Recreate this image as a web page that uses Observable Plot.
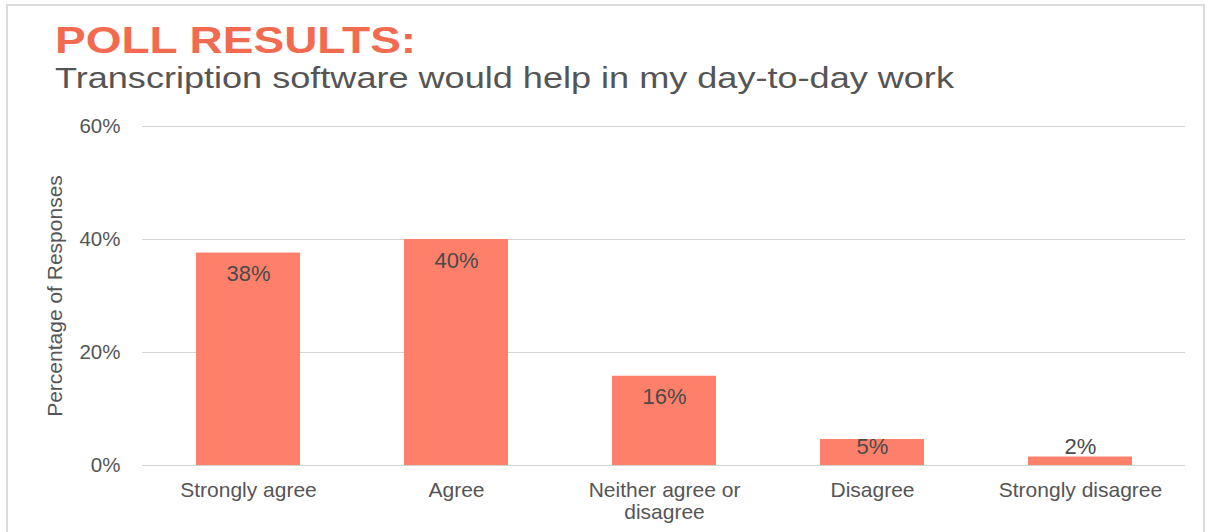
<!DOCTYPE html>
<html>
<head>
<meta charset="utf-8">
<script src="https://cdn.jsdelivr.net/npm/d3@7"></script>
<script src="https://cdn.jsdelivr.net/npm/@observablehq/plot@0.6"></script>
<style>
  html, body { margin: 0; padding: 0; background: #fff; overflow: hidden; }
  #page { position: relative; width: 1209px; height: 532px; overflow: hidden; font-family: "Liberation Sans", Arial, sans-serif; }
  #frame { position: absolute; left: 6px; top: 4px; width: 1199px; height: 560px; border: 2px solid #dcdcdc; box-sizing: border-box; }
  .head { position: absolute; left: 55px; display: inline-block; white-space: nowrap; transform-origin: 0 50%; }
  #title { top: 23px; font-size: 36.5px; line-height: 36px; font-weight: bold; color: #F26B50; }
  #subtitle { top: 63.5px; font-size: 29px; line-height: 29px; color: #555; }
  #chart { position: absolute; left: 0; top: 100px; }
</style>
</head>
<body>
<div id="page">
  <div id="frame"></div>
  <div id="title" class="head" style="transform: scaleX(1.26);">POLL RESULTS:</div>
  <div id="subtitle" class="head" style="transform: scaleX(1.244);">Transcription software would help in my day-to-day work</div>
  <div id="chart"></div>
</div>
<script>
const categories = ["Strongly agree", "Agree", "Neither agree or\ndisagree", "Disagree", "Strongly disagree"];
const values = [37.6, 40, 15.8, 4.6, 1.5];
const valueLabels = ["38%", "40%", "16%", "5%", "2%"];
const yTicks = [0, 20, 40, 60];
const yLabel = "Percentage of Responses";

const data = categories.map((c, i) => ({category: c, value: values[i], label: valueLabels[i]}));

const chart = Plot.plot({
  width: 1209,
  height: 432,
  marginTop: 26,
  marginBottom: 67,
  marginLeft: 142,
  marginRight: 24,
  style: {fontFamily: "'Liberation Sans', Arial, sans-serif", background: "transparent", overflow: "visible"},
  x: {domain: categories, paddingInner: 0.5, paddingOuter: 0.25, label: null},
  y: {domain: [0, 60], ticks: yTicks, label: null},
  marks: [
    Plot.gridY(yTicks, {stroke: "#d4d4d4", strokeOpacity: 1, strokeWidth: 1.2}),
    Plot.barY(data, {x: "category", y: "value", fill: "#FF806A"}),
    Plot.axisY(yTicks, {tickSize: 0, tickPadding: 22, tickFormat: d => d + "%", fontSize: 20.5, fill: "#555", label: null}),
    Plot.axisX({tickSize: 0, tickPadding: 15, fontSize: 21, lineHeight: 1.08, fill: "#555", label: null}),
    Plot.text(data, {x: "category", y: d => Math.max(d.value, 7), dy: 21, text: "label", fontSize: 22, fill: "#4a4a4a"}),
    Plot.text([yLabel], {frameAnchor: "left", textAnchor: "middle", rotate: -90, dx: -87, fontSize: 21, fill: "#555"})
  ]
});
document.getElementById("chart").appendChild(chart);
</script>
</body>
</html>
